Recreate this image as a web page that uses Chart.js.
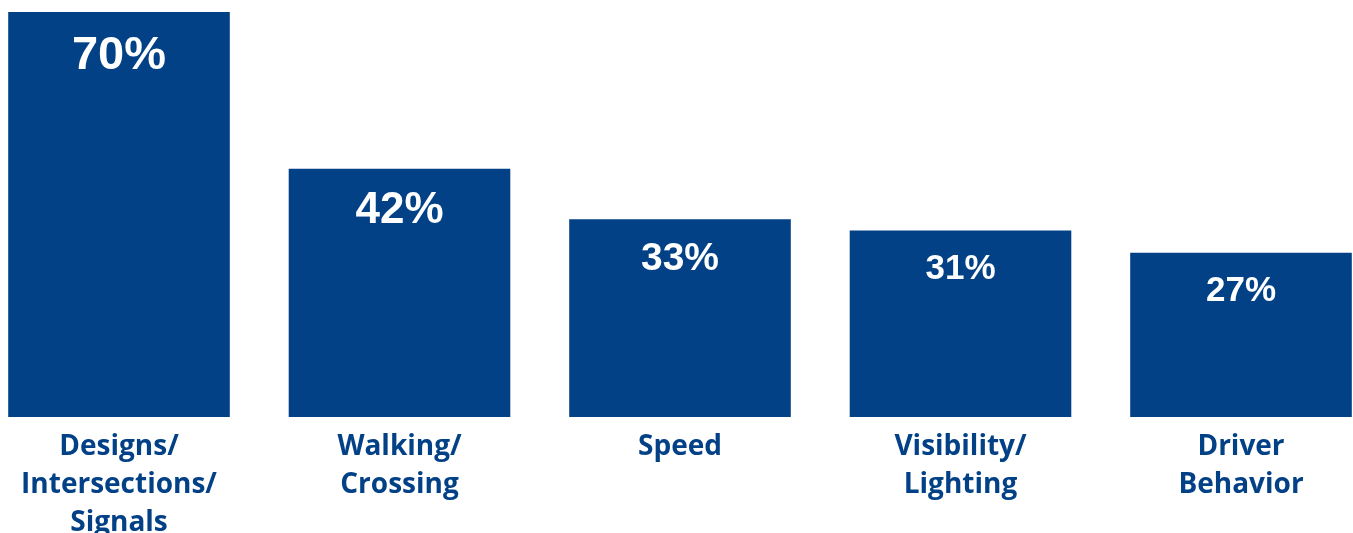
<!DOCTYPE html>
<html>
<head>
<meta charset="utf-8">
<title>Top concerns</title>
<script src="https://cdn.jsdelivr.net/npm/chart.js@4/dist/chart.umd.min.js"></script>
<style>
    html, body { margin: 0; padding: 0; background: #ffffff; }
    #wrap { width: 1353px; height: 533px; position: relative; }
</style>
</head>
<body>
<div id="wrap"><canvas id="chartContainer"></canvas></div>
<script>
// Chart data
const categories = [
    ['Designs/', 'Intersections/', 'Signals'],
    ['Walking/', 'Crossing'],
    'Speed',
    ['Visibility/', 'Lighting'],
    ['Driver', 'Behavior']
];
const percentValues = [70, 42, 33, 31, 27];
const valueLabels = ['70%', '42%', '33%', '31%', '27%'];

// Styles
const barBlue = '#034187';
const labelSizes = [47, 44, 39, 35, 35];
const axisFloor = -2.3;

// Draw the white percentage inside the top of each bar
const valueLabelPlugin = {
    id: 'valueLabels',
    afterDatasetsDraw(chart) {
        const ctx = chart.ctx;
        const meta = chart.getDatasetMeta(0);
        ctx.save();
        ctx.fillStyle = '#ffffff';
        ctx.textAlign = 'center';
        ctx.textBaseline = 'alphabetic';
        meta.data.forEach((bar, i) => {
            const size = labelSizes[i];
            ctx.font = 'bold ' + size + 'px "Liberation Sans", Arial, sans-serif';
            ctx.fillText(valueLabels[i], bar.x, bar.y + 23 + size * 0.716);
        });
        ctx.restore();
    }
};

const ctx = document.getElementById('chartContainer').getContext('2d');
const chart = new Chart(ctx, {
    type: 'bar',
    data: {
        labels: categories,
        datasets: [{
            data: percentValues,
            backgroundColor: barBlue,
            borderWidth: 0,
            base: axisFloor,
            categoryPercentage: 1,
            barPercentage: 0.79,
            clip: false
        }]
    },
    options: {
        responsive: true,
        maintainAspectRatio: false,
        animation: false,
        layout: { padding: { left: 119, right: 112, top: 12, bottom: 0 } },
        plugins: {
            legend: { display: false },
            tooltip: { enabled: false }
        },
        scales: {
            x: {
                offset: false,
                grid: { display: false, drawTicks: false },
                border: { display: false },
                ticks: {
                    color: barBlue,
                    padding: 11,
                    autoSkip: false,
                    maxRotation: 0,
                    font: { family: '"Open Sans"', weight: 'bold', size: 28, lineHeight: '38px' }
                },
                afterFit(scale) { scale.height = 116; }
            },
            y: {
                display: false,
                min: axisFloor,
                max: 70
            }
        }
    },
    plugins: [valueLabelPlugin]
});
</script>
</body>
</html>
